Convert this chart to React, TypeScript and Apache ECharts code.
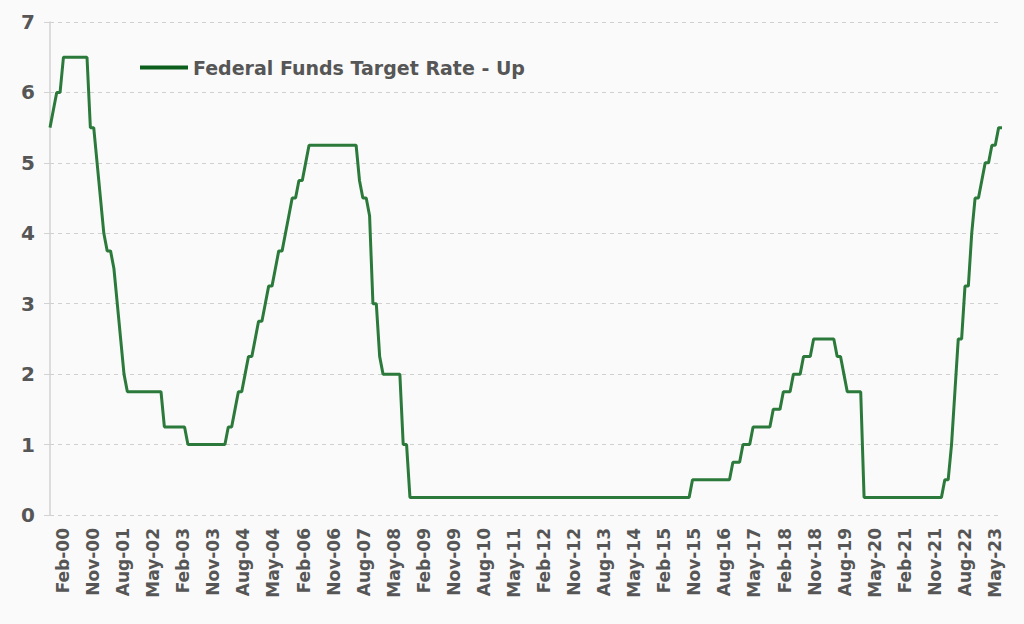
import React, { useEffect, useRef } from "react";
import * as echarts from "echarts";

// Monthly upper target of the Federal Funds rate, Jan-00 .. Aug-23 (end of month, %)
const y2000 = [5.5, 5.75, 6, 6, 6.5, 6.5, 6.5, 6.5, 6.5, 6.5, 6.5, 6.5];
const y2001 = [5.5, 5.5, 5, 4.5, 4, 3.75, 3.75, 3.5, 3, 2.5, 2, 1.75];
const y2002 = [1.75, 1.75, 1.75, 1.75, 1.75, 1.75, 1.75, 1.75, 1.75, 1.75, 1.25, 1.25];
const y2003 = [1.25, 1.25, 1.25, 1.25, 1.25, 1, 1, 1, 1, 1, 1, 1];
const y2004 = [1, 1, 1, 1, 1, 1.25, 1.25, 1.5, 1.75, 1.75, 2, 2.25];
const y2005 = [2.25, 2.5, 2.75, 2.75, 3, 3.25, 3.25, 3.5, 3.75, 3.75, 4, 4.25];
const y2006 = [4.5, 4.5, 4.75, 4.75, 5, 5.25, 5.25, 5.25, 5.25, 5.25, 5.25, 5.25];
const y2007 = [5.25, 5.25, 5.25, 5.25, 5.25, 5.25, 5.25, 5.25, 4.75, 4.5, 4.5, 4.25];
const y2008 = [3, 3, 2.25, 2, 2, 2, 2, 2, 2, 1, 1, 0.25];
const y2009 = [0.25, 0.25, 0.25, 0.25, 0.25, 0.25, 0.25, 0.25, 0.25, 0.25, 0.25, 0.25];
const y2010 = [0.25, 0.25, 0.25, 0.25, 0.25, 0.25, 0.25, 0.25, 0.25, 0.25, 0.25, 0.25];
const y2011 = [0.25, 0.25, 0.25, 0.25, 0.25, 0.25, 0.25, 0.25, 0.25, 0.25, 0.25, 0.25];
const y2012 = [0.25, 0.25, 0.25, 0.25, 0.25, 0.25, 0.25, 0.25, 0.25, 0.25, 0.25, 0.25];
const y2013 = [0.25, 0.25, 0.25, 0.25, 0.25, 0.25, 0.25, 0.25, 0.25, 0.25, 0.25, 0.25];
const y2014 = [0.25, 0.25, 0.25, 0.25, 0.25, 0.25, 0.25, 0.25, 0.25, 0.25, 0.25, 0.25];
const y2015 = [0.25, 0.25, 0.25, 0.25, 0.25, 0.25, 0.25, 0.25, 0.25, 0.25, 0.25, 0.5];
const y2016 = [0.5, 0.5, 0.5, 0.5, 0.5, 0.5, 0.5, 0.5, 0.5, 0.5, 0.5, 0.75];
const y2017 = [0.75, 0.75, 1, 1, 1, 1.25, 1.25, 1.25, 1.25, 1.25, 1.25, 1.5];
const y2018 = [1.5, 1.5, 1.75, 1.75, 1.75, 2, 2, 2, 2.25, 2.25, 2.25, 2.5];
const y2019 = [2.5, 2.5, 2.5, 2.5, 2.5, 2.5, 2.25, 2.25, 2, 1.75, 1.75, 1.75];
const y2020 = [1.75, 1.75, 0.25, 0.25, 0.25, 0.25, 0.25, 0.25, 0.25, 0.25, 0.25, 0.25];
const y2021 = [0.25, 0.25, 0.25, 0.25, 0.25, 0.25, 0.25, 0.25, 0.25, 0.25, 0.25, 0.25];
const y2022 = [0.25, 0.25, 0.5, 0.5, 1, 1.75, 2.5, 2.5, 3.25, 3.25, 4, 4.5];
const y2023 = [4.5, 4.75, 5, 5, 5.25, 5.25, 5.5, 5.5];

const rates = [
  ...y2000, ...y2001, ...y2002, ...y2003, ...y2004, ...y2005, ...y2006, ...y2007,
  ...y2008, ...y2009, ...y2010, ...y2011, ...y2012, ...y2013, ...y2014, ...y2015,
  ...y2016, ...y2017, ...y2018, ...y2019, ...y2020, ...y2021, ...y2022, ...y2023,
];

const monthNames = ["Jan", "Feb", "Mar", "Apr", "May", "Jun", "Jul", "Aug", "Sep", "Oct", "Nov", "Dec"];
const months = rates.map((_, i) => {
  const y = 2000 + Math.floor(i / 12);
  return monthNames[i % 12] + "-" + String(y % 100).padStart(2, "0");
});

// Tick labels exactly as printed on the reference (including its "May-04")
const tickLabels = [
  "Feb-00", "Nov-00", "Aug-01", "May-02", "Feb-03", "Nov-03", "Aug-04", "May-04",
  "Feb-06", "Nov-06", "Aug-07", "May-08", "Feb-09", "Nov-09", "Aug-10", "May-11",
  "Feb-12", "Nov-12", "Aug-13", "May-14", "Feb-15", "Nov-15", "Aug-16", "May-17",
  "Feb-18", "Nov-18", "Aug-19", "May-20", "Feb-21", "Nov-21", "Aug-22", "May-23",
];

const seriesName = "Federal Funds Target Rate - Up";

export default function App() {
  const ref = useRef<HTMLDivElement>(null);

  useEffect(() => {
    if (!ref.current) return;
    const chart = echarts.init(ref.current, undefined, { renderer: "svg" });
    const font = "DejaVu Sans";
    const txt = "#565656";
    chart.setOption({
      animation: false,
      backgroundColor: "#fafafa",
      textStyle: { fontFamily: font },
      legend: {
        data: [
          {
            name: seriesName,
            itemStyle: { color: "#0b5e1b" },
            lineStyle: { color: "#0b5e1b" },
          },
        ],
        left: 140,
        top: 58,
        padding: 0,
        icon: "rect",
        itemWidth: 48,
        itemHeight: 4,
        textStyle: { fontSize: 19, color: txt, fontFamily: font, fontWeight: "bold" },
      },
      grid: [
        { left: 50, right: 22, top: 22, bottom: 109 },
        { left: 63, right: 29, top: 22, bottom: 109 },
      ],
      xAxis: [
        {
          type: "category",
          gridIndex: 0,
          data: months,
          boundaryGap: false,
          show: false,
        },
        {
          type: "category",
          gridIndex: 1,
          data: tickLabels,
          boundaryGap: false,
          axisLine: { show: false },
          axisTick: { show: false },
          splitLine: { show: false },
          axisLabel: {
            interval: 0,
            rotate: 90,
            margin: 13,
            fontSize: 17,
            fontWeight: "bold",
            color: txt,
            fontFamily: font,
          },
        },
      ],
      yAxis: [
        {
          type: "value",
          gridIndex: 0,
          min: 0,
          max: 7,
          interval: 1,
          axisLine: { show: true, lineStyle: { color: "#d2d2d2", width: 1.5 } },
          axisTick: { show: true, length: 6, lineStyle: { color: "#d2d2d2" } },
          splitLine: { show: true, lineStyle: { type: [4, 4], color: "#d0d0d0", width: 1 } },
          axisLabel: { fontSize: 20, fontWeight: "bold", color: txt, margin: 15, fontFamily: font },
        },
        { type: "value", gridIndex: 1, min: 0, max: 7, show: false },
      ],
      series: [
        {
          name: seriesName,
          type: "line",
          xAxisIndex: 0,
          yAxisIndex: 0,
          data: rates,
          showSymbol: false,
          smooth: false,
          lineStyle: { color: "#2b7a3b", width: 3 },
          itemStyle: { color: "#2b7a3b" },
        },
        {
          name: "labels",
          type: "line",
          xAxisIndex: 1,
          yAxisIndex: 1,
          data: [],
          silent: true,
        },
      ],
    });
    return () => chart.dispose();
  }, []);

  return (
    <div
      ref={ref}
      style={{ position: "fixed", left: 0, top: 0, width: 1024, height: 624 }}
    />
  );
}
